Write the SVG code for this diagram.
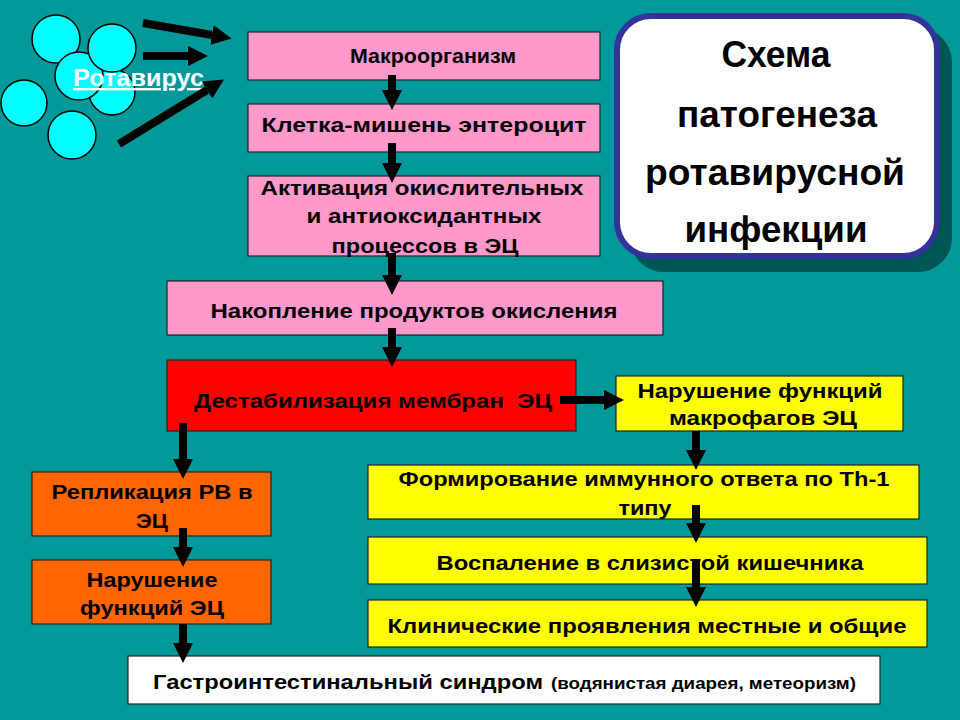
<svg xmlns="http://www.w3.org/2000/svg" width="960" height="720" viewBox="0 0 960 720">
<defs>
<style>
.bx{stroke:#222;stroke-width:1.2}
.pink{fill:#FF99CC}
.red{fill:#FF0000}
.yel{fill:#FFFF00}
.org{fill:#FF6600}
.wht{fill:#FFFFFF}
.t{font-family:"Liberation Sans",Arial,sans-serif;font-weight:bold;font-size:21px;fill:#000;text-anchor:middle}
.ttl{font-family:"Liberation Sans",Arial,sans-serif;font-weight:bold;font-size:36px;fill:#000;text-anchor:middle}
.vir{fill:#00FFFF;stroke:#000;stroke-width:1.5}
.ar{stroke:#000;stroke-width:8;fill:none;marker-end:url(#ah)}
</style>
<marker id="ah" markerUnits="userSpaceOnUse" markerWidth="20" markerHeight="20" viewBox="0 0 20 20" refX="0" refY="10" orient="auto">
<path d="M0,0 L20,10 L0,20 z" fill="#000"/>
</marker>
</defs>
<rect width="960" height="720" fill="#009999"/>

<g id="rotavirus">
<circle class="vir" cx="56" cy="39" r="24"/>
<circle class="vir" cx="112" cy="92" r="23"/>
<circle class="vir" cx="79" cy="76" r="24"/>
<circle class="vir" cx="112" cy="48" r="24"/>
<circle class="vir" cx="24" cy="103" r="23"/>
<circle class="vir" cx="72" cy="135" r="24"/>
<text x="73" y="86" font-family="Liberation Sans,Arial,sans-serif" font-weight="bold" font-size="24" fill="#FFFFFF" text-decoration="underline" textLength="131" lengthAdjust="spacingAndGlyphs">Ротавирус</text>
</g>

<g id="title">
<rect x="630" y="28" width="322" height="244" rx="34" fill="#005555"/>
<rect x="617" y="16" width="320" height="240" rx="34" fill="#FFFFFF" stroke="#333399" stroke-width="6"/>
<text class="ttl" x="776" y="67" textLength="109" lengthAdjust="spacingAndGlyphs">Схема</text>
<text class="ttl" x="777" y="127" textLength="200" lengthAdjust="spacingAndGlyphs">патогенеза</text>
<text class="ttl" x="775" y="185" textLength="260" lengthAdjust="spacingAndGlyphs">ротавирусной</text>
<text class="ttl" x="776" y="242" textLength="183" lengthAdjust="spacingAndGlyphs">инфекции</text>
</g>

<g id="n1"><rect class="bx pink" x="248" y="32" width="352" height="48"/><text class="t" x="433" y="63" textLength="166" lengthAdjust="spacingAndGlyphs">Макроорганизм</text></g>
<g id="n2"><rect class="bx pink" x="248" y="104" width="352" height="48"/><text class="t" x="424" y="132" textLength="325" lengthAdjust="spacingAndGlyphs">Клетка-мишень энтероцит</text></g>
<g id="n3"><rect class="bx pink" x="248" y="176" width="352" height="80"/><text class="t" x="422" y="195" textLength="323" lengthAdjust="spacingAndGlyphs">Активация окислительных</text><text class="t" x="424" y="223" textLength="235" lengthAdjust="spacingAndGlyphs">и антиоксидантных</text><text class="t" x="425" y="253" textLength="187" lengthAdjust="spacingAndGlyphs">процессов в ЭЦ</text></g>
<g id="n4"><rect class="bx pink" x="167" y="281" width="496" height="54"/><text class="t" x="414" y="318" textLength="407" lengthAdjust="spacingAndGlyphs">Накопление продуктов окисления</text></g>
<g id="n5"><rect class="bx red" x="167" y="360" width="409" height="71"/><text class="t" x="373" y="408" textLength="358" lengthAdjust="spacingAndGlyphs" xml:space="preserve">Дестабилизация мембран  ЭЦ</text></g>
<g id="n6"><rect class="bx yel" x="616" y="376" width="287" height="55"/><text class="t" x="760" y="398" textLength="245" lengthAdjust="spacingAndGlyphs">Нарушение функций</text><text class="t" x="763" y="425" textLength="188" lengthAdjust="spacingAndGlyphs">макрофагов ЭЦ</text></g>
<g id="n7"><rect class="bx yel" x="368" y="465" width="551" height="54"/><text class="t" x="644" y="486" textLength="491" lengthAdjust="spacingAndGlyphs">Формирование иммунного ответа по Th-1</text><text class="t" x="645" y="515" textLength="53" lengthAdjust="spacingAndGlyphs">типу</text></g>
<g id="n8"><rect class="bx yel" x="368" y="537" width="559" height="47"/><text class="t" x="650" y="570" textLength="427" lengthAdjust="spacingAndGlyphs">Воспаление в слизистой кишечника</text></g>
<g id="n9"><rect class="bx yel" x="368" y="600" width="559" height="47"/><text class="t" x="647" y="633" textLength="519" lengthAdjust="spacingAndGlyphs">Клинические проявления местные и общие</text></g>
<g id="n10"><rect class="bx org" x="32" y="472" width="239" height="64"/><text class="t" x="152" y="499" textLength="201" lengthAdjust="spacingAndGlyphs">Репликация РВ в</text><text class="t" x="152" y="528" textLength="32" lengthAdjust="spacingAndGlyphs">ЭЦ</text></g>
<g id="n11"><rect class="bx org" x="32" y="560" width="239" height="64"/><text class="t" x="152" y="587" textLength="131" lengthAdjust="spacingAndGlyphs">Нарушение</text><text class="t" x="152" y="615" textLength="144" lengthAdjust="spacingAndGlyphs">функций ЭЦ</text></g>
<g id="n12"><rect class="bx wht" x="128" y="656" width="752" height="48"/><text class="t" x="153" y="689" style="text-anchor:start" textLength="390" lengthAdjust="spacingAndGlyphs">Гастроинтестинальный синдром</text><text class="t" x="551" y="689" style="text-anchor:start;font-size:16px" textLength="305" lengthAdjust="spacingAndGlyphs">(водянистая диарея, метеоризм)</text></g>

<g id="connectors">
<line class="ar" x1="143" y1="23" x2="212" y2="35"/>
<line class="ar" x1="143" y1="56" x2="188" y2="56"/>
<line class="ar" x1="119" y1="144" x2="207" y2="90"/>
<line class="ar" x1="392" y1="75" x2="392" y2="90"/>
<line class="ar" x1="392" y1="143" x2="392" y2="163"/>
<line class="ar" x1="392" y1="253" x2="392" y2="275"/>
<line class="ar" x1="392" y1="328" x2="392" y2="347"/>
<line class="ar" x1="560" y1="400" x2="604" y2="400"/>
<line class="ar" x1="183" y1="423" x2="183" y2="459"/>
<line class="ar" x1="183" y1="528" x2="183" y2="547"/>
<line class="ar" x1="183" y1="624" x2="183" y2="643"/>
<line class="ar" x1="696" y1="431" x2="696" y2="450"/>
<line class="ar" x1="696" y1="505" x2="696" y2="523"/>
<line class="ar" x1="696" y1="560" x2="696" y2="587"/>
</g>
</svg>
